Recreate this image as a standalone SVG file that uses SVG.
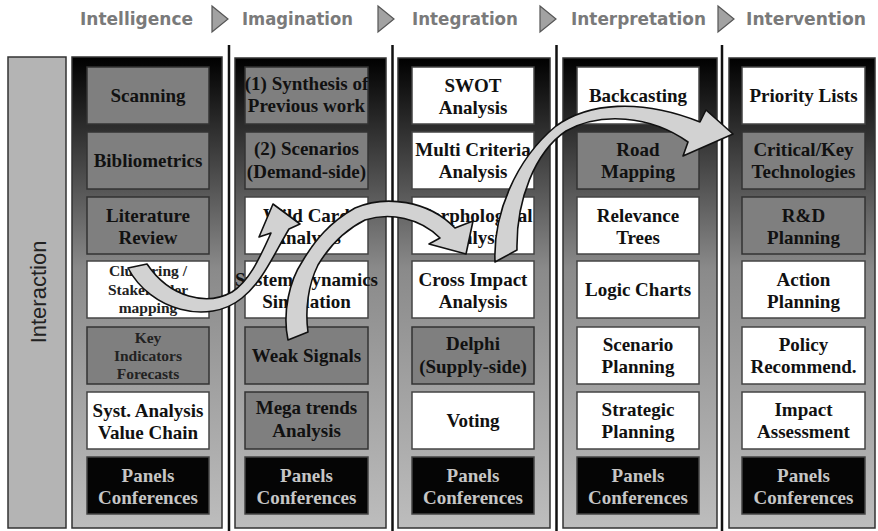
<svg xmlns="http://www.w3.org/2000/svg" width="878" height="531" viewBox="0 0 878 531">
  <defs>
    <linearGradient id="panelFill" gradientUnits="userSpaceOnUse" x1="0" y1="57" x2="0" y2="528">
      <stop offset="0" stop-color="#000"/>
      <stop offset="0.1" stop-color="#1e1e1e"/>
      <stop offset="0.45" stop-color="#8a8a8a"/>
      <stop offset="1" stop-color="#bdbdbd"/>
    </linearGradient>
  </defs>
  <style>
    .hdr { font-family: 'DejaVu Sans', 'Liberation Sans', sans-serif; font-weight: bold; font-size: 17px; fill: #7a7a7a; }
    .tri { fill: #a2a2a2; stroke: #555; stroke-width: 1.2; }
    .divider { stroke: #111; stroke-width: 2.5; }
    .panel { fill: url(#panelFill); stroke: #333; stroke-width: 1.5; }
    .side { fill: #b4b4b4; stroke: #333; stroke-width: 1.5; }
    .gray { fill: #7f7f7f; stroke: #333; stroke-width: 1.5; }
    .white { fill: #fff; stroke: #444; stroke-width: 1.5; }
    .black { fill: #050505; stroke: #444; stroke-width: 1.5; }
    .t { font-family: 'Liberation Serif', 'DejaVu Serif', serif; font-weight: bold; font-size: 19px; fill: #111; text-anchor: middle; }
    .ts { font-family: 'Liberation Serif', 'DejaVu Serif', serif; font-weight: bold; font-size: 15.5px; fill: #222; text-anchor: middle; }
    .tk { fill: #c6c6c6; }
    .side-label { font-family: 'Liberation Sans', Arial, sans-serif; font-size: 22px; fill: #222; text-anchor: middle; }
    .arrow { fill: #d2d2d2; stroke: #111; stroke-width: 1.6; stroke-linejoin: round; }
  </style>

  <rect width="878" height="531" fill="#fff"/>

  <!-- phase headings -->
  <g id="headings">
    <text class="hdr" x="80" y="25" textLength="113" lengthAdjust="spacingAndGlyphs">Intelligence</text>
    <polygon class="tri" points="212,6 228,19 212,32"/>
    <text class="hdr" x="242" y="25" textLength="111" lengthAdjust="spacingAndGlyphs">Imagination</text>
    <polygon class="tri" points="378,6 394,19 378,32"/>
    <text class="hdr" x="412" y="25" textLength="106" lengthAdjust="spacingAndGlyphs">Integration</text>
    <polygon class="tri" points="540,6 556,19 540,32"/>
    <text class="hdr" x="571" y="25" textLength="135" lengthAdjust="spacingAndGlyphs">Interpretation</text>
    <polygon class="tri" points="718,6 734,19 718,32"/>
    <text class="hdr" x="746" y="25" textLength="120" lengthAdjust="spacingAndGlyphs">Intervention</text>
  </g>

  <!-- column separators -->
  <g id="dividers">
    <line class="divider" x1="229" y1="45" x2="229" y2="531"/>
    <line class="divider" x1="392.5" y1="45" x2="392.5" y2="531"/>
    <line class="divider" x1="556.5" y1="45" x2="556.5" y2="531"/>
    <line class="divider" x1="722" y1="45" x2="722" y2="531"/>
  </g>

  <!-- side bar -->
  <g id="interaction">
    <rect class="side" x="8" y="57" width="58" height="471"/>
    <text class="side-label" transform="translate(46,292) rotate(-90)" x="0" y="0">Interaction</text>
  </g>

  <!-- column panels -->
  <g id="panels">
    <rect class="panel" x="72" y="57" width="150" height="471"/>
    <rect class="panel" x="235" y="58" width="151" height="470"/>
    <rect class="panel" x="398" y="58" width="152" height="470"/>
    <rect class="panel" x="563" y="58" width="154" height="470"/>
    <rect class="panel" x="729" y="58" width="146" height="470"/>
  </g>

  <!-- Intelligence column -->
  <g id="col-intelligence">
    <g id="scanning"><rect class="gray" x="87" y="67" width="122" height="57"/><text class="t" x="148" y="101.5">Scanning</text></g>
    <g id="bibliometrics"><rect class="gray" x="87" y="132" width="122" height="57"/><text class="t" x="148" y="166.5">Bibliometrics</text></g>
    <g id="literature-review"><rect class="gray" x="87" y="197" width="122" height="57"/><text class="t" x="148" y="221.5">Literature</text><text class="t" x="148" y="243.5">Review</text></g>
    <g id="clustering"><rect class="white" x="87" y="261" width="122" height="57"/><text class="ts" x="148" y="276">Clustering /</text><text class="ts" x="148" y="295">Stakeholder</text><text class="ts" x="148" y="313">mapping</text></g>
    <g id="key-indicators"><rect class="gray" x="87" y="327" width="122" height="57"/><text class="ts" x="148" y="343">Key</text><text class="ts" x="148" y="361">Indicators</text><text class="ts" x="148" y="379">Forecasts</text></g>
    <g id="syst-analysis"><rect class="white" x="87" y="392" width="122" height="57"/><text class="t" x="148" y="416.5">Syst. Analysis</text><text class="t" x="148" y="438.5">Value Chain</text></g>
    <g id="panels-1"><rect class="black" x="87" y="457" width="122" height="57"/><text class="t tk" x="148" y="481.5">Panels</text><text class="t tk" x="148" y="503.5">Conferences</text></g>
  </g>

  <!-- Imagination column -->
  <g id="col-imagination">
    <g id="synthesis"><rect class="gray" x="245" y="67" width="123" height="57"/><text class="t" x="306.5" y="89.5">(1) Synthesis of</text><text class="t" x="306.5" y="112">Previous work</text></g>
    <g id="scenarios-demand"><rect class="gray" x="245" y="132" width="123" height="57"/><text class="t" x="306.5" y="155">(2) Scenarios</text><text class="t" x="306.5" y="178">(Demand-side)</text></g>
    <g id="wild-card"><rect class="white" x="245" y="197" width="123" height="57"/><text class="t" x="306.5" y="221.5">Wild Card</text><text class="t" x="306.5" y="243.5">Analysis</text></g>
    <g id="system-dynamics"><rect class="white" x="245" y="261" width="123" height="57"/><text class="t" x="306.5" y="286">System Dynamics</text><text class="t" x="306.5" y="308">Simulation</text></g>
    <g id="weak-signals"><rect class="gray" x="245" y="327" width="123" height="57"/><text class="t" x="306.5" y="361.5">Weak Signals</text></g>
    <g id="mega-trends"><rect class="gray" x="245" y="392" width="123" height="57"/><text class="t" x="306.5" y="414">Mega trends</text><text class="t" x="306.5" y="437">Analysis</text></g>
    <g id="panels-2"><rect class="black" x="245" y="457" width="123" height="57"/><text class="t tk" x="306.5" y="481.5">Panels</text><text class="t tk" x="306.5" y="503.5">Conferences</text></g>
  </g>

  <!-- Integration column -->
  <g id="col-integration">
    <g id="swot"><rect class="white" x="412" y="67" width="122" height="57"/><text class="t" x="473" y="91.5">SWOT</text><text class="t" x="473" y="113.5">Analysis</text></g>
    <g id="multi-criteria"><rect class="white" x="412" y="132" width="122" height="57"/><text class="t" x="473" y="156">Multi Criteria</text><text class="t" x="473" y="178">Analysis</text></g>
    <g id="morphological"><rect class="white" x="412" y="197" width="122" height="57"/><text class="t" x="473" y="221.5">Morphological</text><text class="t" x="473" y="243.5">Analysis</text></g>
    <g id="cross-impact"><rect class="white" x="412" y="261" width="122" height="57"/><text class="t" x="473" y="285.5">Cross Impact</text><text class="t" x="473" y="307.5">Analysis</text></g>
    <g id="delphi"><rect class="gray" x="412" y="327" width="122" height="57"/><text class="t" x="473" y="350">Delphi</text><text class="t" x="473" y="373">(Supply-side)</text></g>
    <g id="voting"><rect class="white" x="412" y="392" width="122" height="57"/><text class="t" x="473" y="426.5">Voting</text></g>
    <g id="panels-3"><rect class="black" x="412" y="457" width="122" height="57"/><text class="t tk" x="473" y="481.5">Panels</text><text class="t tk" x="473" y="503.5">Conferences</text></g>
  </g>

  <!-- Interpretation column -->
  <g id="col-interpretation">
    <g id="backcasting"><rect class="white" x="577" y="67" width="122" height="57"/><text class="t" x="638" y="101.5">Backcasting</text></g>
    <g id="road-mapping"><rect class="gray" x="577" y="132" width="122" height="57"/><text class="t" x="638" y="156">Road</text><text class="t" x="638" y="178">Mapping</text></g>
    <g id="relevance-trees"><rect class="white" x="577" y="197" width="122" height="57"/><text class="t" x="638" y="221.5">Relevance</text><text class="t" x="638" y="243.5">Trees</text></g>
    <g id="logic-charts"><rect class="white" x="577" y="261" width="122" height="57"/><text class="t" x="638" y="296">Logic Charts</text></g>
    <g id="scenario-planning"><rect class="white" x="577" y="327" width="122" height="57"/><text class="t" x="638" y="350.5">Scenario</text><text class="t" x="638" y="373">Planning</text></g>
    <g id="strategic-planning"><rect class="white" x="577" y="392" width="122" height="57"/><text class="t" x="638" y="415.5">Strategic</text><text class="t" x="638" y="438">Planning</text></g>
    <g id="panels-4"><rect class="black" x="577" y="457" width="122" height="57"/><text class="t tk" x="638" y="481.5">Panels</text><text class="t tk" x="638" y="503.5">Conferences</text></g>
  </g>

  <!-- Intervention column -->
  <g id="col-intervention">
    <g id="priority-lists"><rect class="white" x="742" y="67" width="123" height="57"/><text class="t" x="803.5" y="101.5">Priority Lists</text></g>
    <g id="critical-tech"><rect class="gray" x="742" y="132" width="123" height="57"/><text class="t" x="803.5" y="156">Critical/Key</text><text class="t" x="803.5" y="178">Technologies</text></g>
    <g id="rd-planning"><rect class="gray" x="742" y="197" width="123" height="57"/><text class="t" x="803.5" y="221.5">R&amp;D</text><text class="t" x="803.5" y="243.5">Planning</text></g>
    <g id="action-planning"><rect class="white" x="742" y="261" width="123" height="57"/><text class="t" x="803.5" y="285.5">Action</text><text class="t" x="803.5" y="307.5">Planning</text></g>
    <g id="policy"><rect class="white" x="742" y="327" width="123" height="57"/><text class="t" x="803.5" y="350.5">Policy</text><text class="t" x="803.5" y="373">Recommend.</text></g>
    <g id="impact-assessment"><rect class="white" x="742" y="392" width="123" height="57"/><text class="t" x="803.5" y="415.5">Impact</text><text class="t" x="803.5" y="438">Assessment</text></g>
    <g id="panels-5"><rect class="black" x="742" y="457" width="123" height="57"/><text class="t tk" x="803.5" y="481.5">Panels</text><text class="t tk" x="803.5" y="503.5">Conferences</text></g>
  </g>

  <!-- curved flow arrows -->
  <g id="connectors">
    <path class="arrow" d="M 128,268 C 150,310 208,326 242,298 C 262,282 272,258 289,229 L 300,224 L 273,204 L 259,237 L 271,233 C 258,262 248,282 232,292 C 207,306 170,298 147,264 Z"/>
    <path class="arrow" d="M 288,340 C 282,312 290,280 302,262 C 315,240 330,222 355,208 C 385,195 428,200 455,228 L 473,221 L 466,254 L 429,244 L 440,238 C 420,218 390,212 365,220 C 345,230 330,245 318,265 C 308,285 305,310 308,332 Z"/>
    <path class="arrow" d="M 495,262 C 493,215 515,160 556,126 C 588,103 640,98 700,122 L 706,110 L 733,134 L 683,156 L 688,142 C 650,115 600,112 566,131 C 535,152 516,200 517,250 Z"/>
  </g>
</svg>
